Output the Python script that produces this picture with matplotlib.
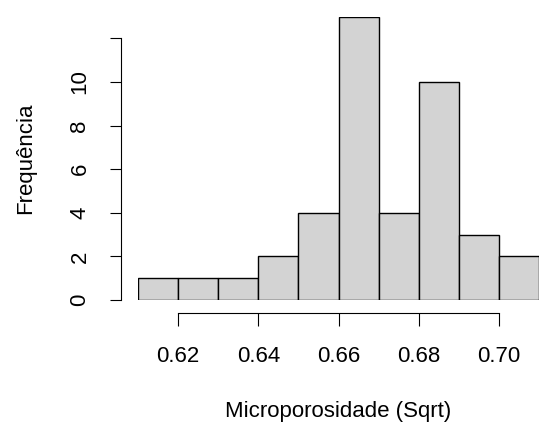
import matplotlib.pyplot as plt
import numpy as np

# Histograma da microporosidade (raiz quadrada)
bin_edges = np.array([0.61, 0.62, 0.63, 0.64, 0.65, 0.66, 0.67, 0.68, 0.69, 0.70, 0.71])
counts = np.array([1, 1, 1, 2, 4, 13, 4, 10, 3, 2])
x_ticks = [0.62, 0.64, 0.66, 0.68, 0.70]
y_ticks = [0, 2, 4, 6, 8, 10, 12]
y_labels = ["0", "2", "4", "6", "8", "10", ""]

plt.rcParams['font.family'] = ['Liberation Sans', 'DejaVu Sans']

fig = plt.figure(figsize=(5.41, 4.28), dpi=100)
ax = fig.add_axes([138 / 541, 128 / 428, 401 / 541, 283.4 / 428])

ax.bar(bin_edges[:-1], counts, width=np.diff(bin_edges), align='edge',
       color="#D3D3D3", edgecolor="black", linewidth=1)

ax.set_xlim(0.61, 0.71)
ax.set_ylim(0, 13)

for s in ['top', 'right']:
    ax.spines[s].set_visible(False)
ax.spines['left'].set_position(('outward', 12.2))
ax.spines['left'].set_bounds(0, 12)
ax.spines['bottom'].set_position(('outward', 9.4))
ax.spines['bottom'].set_bounds(0.62, 0.70)

ax.set_xticks(x_ticks)
ax.set_xticklabels([f"{v:.2f}" for v in x_ticks])
ax.set_yticks(y_ticks)
ax.set_yticklabels(y_labels, rotation=90, va='center')
ax.tick_params(axis='x', length=9.4, labelsize=16, pad=14)
ax.tick_params(axis='y', length=8, labelsize=16, pad=14)

ax.set_xlabel("Microporosidade (Sqrt)", fontsize=16)
ax.set_ylabel("Frequência", fontsize=16)
ax.xaxis.set_label_coords(0.5, -0.355)
ax.yaxis.set_label_coords(-0.255, 0.5)

fig.savefig("out.png", dpi=100)
